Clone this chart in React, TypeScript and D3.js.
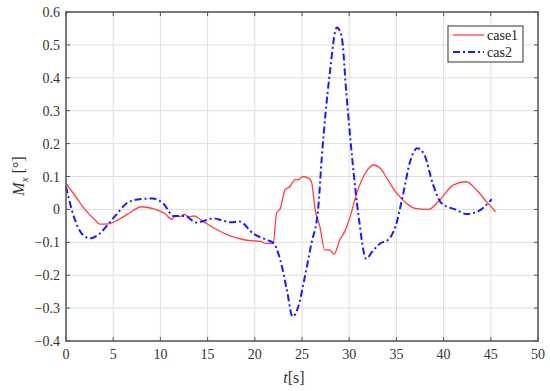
import React from "react";
import * as d3 from "d3";

const xTicks = [0, 5, 10, 15, 20, 25, 30, 35, 40, 45, 50];
const yTicks = [-0.4, -0.3, -0.2, -0.1, 0, 0.1, 0.2, 0.3, 0.4, 0.5, 0.6];

const case1T = [0, 1, 2, 3, 3.6, 4.5, 5.5, 6.5, 8.0, 9.5, 10.5, 11.2, 11.6, 12.1, 12.5, 13.0, 13.6, 14.2, 15, 16, 17, 18, 19, 20, 20.6, 21.1, 21.96, 22.3, 22.7, 23.2, 23.7, 24.3, 24.6, 25.1, 25.7, 26.0, 26.4, 26.9, 27.4, 27.9, 28.4, 29.0, 29.6, 30.1, 30.8, 31.7, 32.6, 33.3, 34.0, 35.0, 36.1, 37.0, 38.4, 39.6, 41.0, 42.4, 43.5, 44.5, 45.5];
const case1V = [0.079, 0.04, 0.0, -0.03, -0.045, -0.044, -0.032, -0.015, 0.008, 0.0, -0.013, -0.03, -0.018, -0.022, -0.015, -0.022, -0.02, -0.03, -0.045, -0.062, -0.076, -0.086, -0.093, -0.096, -0.097, -0.103, -0.103, -0.012, 0.003, 0.059, 0.069, 0.091, 0.09, 0.1, 0.095, 0.084, -0.002, -0.053, -0.123, -0.123, -0.136, -0.093, -0.063, -0.022, 0.049, 0.11, 0.135, 0.125, 0.094, 0.05, 0.018, 0.003, 0.0, 0.029, 0.074, 0.084, 0.059, 0.025, -0.007];

const case2T = [0, 0.6, 1.2, 1.8, 2.6, 3.5, 4.7, 5.5, 6.4, 7.8, 9.2, 10.3, 11.4, 12.6, 13.8, 14.6, 15.6, 16.5, 17.4, 18.4, 19.8, 21.3, 22.0, 22.7, 23.4, 24.0, 24.6, 25.3, 26.0, 26.7, 27.1, 27.9, 28.7, 29.2, 29.7, 30.3, 31.0, 31.8, 32.4, 33.3, 34.1, 34.9, 35.7, 36.4, 37.2, 37.9, 38.9, 39.8, 41.4, 42.4, 43.5, 45.1];
const case2V = [0.07, 0.0, -0.05, -0.078, -0.088, -0.075, -0.037, -0.01, 0.018, 0.031, 0.033, 0.018, -0.02, -0.02, -0.04, -0.035, -0.027, -0.033, -0.039, -0.037, -0.073, -0.093, -0.103, -0.154, -0.245, -0.326, -0.296, -0.205, -0.103, -0.002, 0.16, 0.403, 0.553, 0.525, 0.353, 0.16, -0.022, -0.15, -0.13, -0.103, -0.093, -0.052, 0.045, 0.14, 0.186, 0.17, 0.074, 0.018, -0.002, -0.014, -0.008, 0.031];

const W = 550, H = 391;
const m = { left: 66, right: 12, top: 12, bottom: 50 };
const FONT = "'Liberation Serif', 'Times New Roman', serif";

export default function App() {
  const x = d3.scaleLinear().domain([0, 50]).range([m.left, W - m.right]);
  const y = d3.scaleLinear().domain([-0.4, 0.6]).range([H - m.bottom, m.top]);
  const line = d3.line<[number, number]>().x(d => x(d[0])).y(d => y(d[1])).curve(d3.curveMonotoneX);
  const d1 = line(case1T.map((t, i) => [t, case1V[i]] as [number, number])) || "";
  const d2 = line(case2T.map((t, i) => [t, case2V[i]] as [number, number])) || "";
  const x0 = x(0), x1 = x(50), y0 = y(-0.4), y1 = y(0.6);
  const fmt = (v: number) => (v === 0 ? "0" : (v < 0 ? "\u2212" : "") + Math.abs(v).toFixed(1));
  const ts = { fontFamily: FONT };
  const tk = 4;
  return (
    <svg width={W} height={H} style={{ position: "absolute", left: 0, top: 0, background: "#fff", fontFamily: FONT }}>
      {xTicks.map(t => (
        <line key={"gx" + t} x1={x(t)} x2={x(t)} y1={y1} y2={y0} stroke="#dedede" strokeWidth={1} />
      ))}
      {yTicks.map(t => (
        <line key={"gy" + t} x1={x0} x2={x1} y1={y(t)} y2={y(t)} stroke="#dedede" strokeWidth={1} />
      ))}
      <path d={d1} fill="none" stroke="#ff4040" strokeWidth={1.3} />
      <path d={d2} fill="none" stroke="#1a1aff" strokeWidth={2} strokeDasharray="7,3,2,3" />
      <rect x={x0} y={y1} width={x1 - x0} height={y0 - y1} fill="none" stroke="#555" strokeWidth={1.5} />
      {xTicks.map(t => (
        <g key={"tx" + t}>
          <line x1={x(t)} x2={x(t)} y1={y0} y2={y0 - tk} stroke="#555" />
          <line x1={x(t)} x2={x(t)} y1={y1} y2={y1 + tk} stroke="#555" />
          <text x={x(t)} y={y0 + 18} textAnchor="middle" fontSize={14} fill="#333" style={ts}>{t}</text>
        </g>
      ))}
      {yTicks.map(t => (
        <g key={"ty" + t}>
          <line x1={x0} x2={x0 + tk} y1={y(t)} y2={y(t)} stroke="#555" />
          <line x1={x1} x2={x1 - tk} y1={y(t)} y2={y(t)} stroke="#555" />
          <text x={x0 - 6} y={y(t) + 5} textAnchor="end" fontSize={14} fill="#333" style={ts}>{fmt(t)}</text>
        </g>
      ))}
      <text x={294} y={383} textAnchor="middle" fontSize={16} fill="#333" style={ts}>
        <tspan fontStyle="italic">t</tspan>[s]
      </text>
      <text transform="translate(24,176) rotate(-90)" textAnchor="middle" fontSize={16} fill="#333" style={ts}>
        <tspan fontStyle="italic">M</tspan>
        <tspan fontStyle="italic" fontSize={11} dy={4}>x</tspan>
        <tspan dy={-4}> [°]</tspan>
      </text>
      <rect x={448} y={26} width={75} height={36} fill="#fff" stroke="#555" strokeWidth={1.2} />
      <line x1={453} x2={484} y1={35} y2={35} stroke="#ff4040" strokeWidth={1.3} />
      <line x1={453} x2={484} y1={52} y2={52} stroke="#1a1aff" strokeWidth={2} strokeDasharray="7,3,2,3" />
      <text x={487} y={39.5} fontSize={14} fill="#222" style={ts}>case1</text>
      <text x={487} y={56.5} fontSize={14} fill="#222" style={ts}>cas2</text>
    </svg>
  );
}
